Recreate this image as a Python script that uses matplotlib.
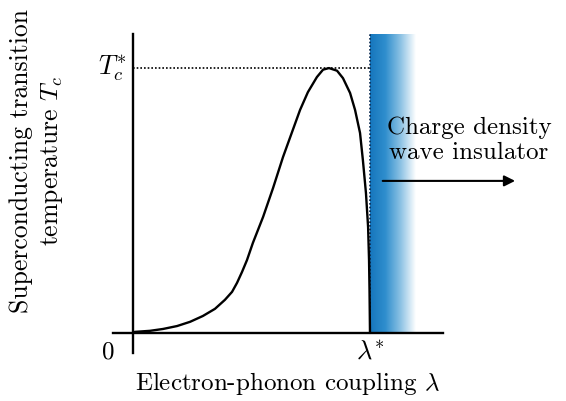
import numpy as np
import matplotlib
matplotlib.use('Agg')
import matplotlib.pyplot as plt
from matplotlib.colors import LinearSegmentedColormap

plt.rcParams['font.family'] = 'serif'
plt.rcParams['font.serif'] = ['cmr10', 'DejaVu Serif']
plt.rcParams['mathtext.fontset'] = 'cm'
plt.rcParams['axes.unicode_minus'] = False

# Tc(lambda) curve (units: lambda*, Tc*)
lam = [0.0, 0.008, 0.072, 0.127, 0.186, 0.241, 0.295, 0.346, 0.388, 0.418,
       0.439, 0.460, 0.481, 0.506, 0.549, 0.591, 0.633, 0.671, 0.705, 0.738,
       0.776, 0.802, 0.827, 0.861, 0.886, 0.916, 0.937, 0.958, 0.970, 0.983,
       0.992, 0.996, 0.998, 1.0]
tc = [0.0, 0.004, 0.008, 0.015, 0.026, 0.042, 0.064, 0.091, 0.125, 0.155,
      0.189, 0.230, 0.275, 0.340, 0.438, 0.547, 0.664, 0.758, 0.842, 0.909,
      0.966, 0.994, 1.0, 0.990, 0.962, 0.906, 0.842, 0.755, 0.653, 0.528,
      0.400, 0.275, 0.162, 0.0]
lam_star = 1.0
tc_star = 1.0

fig = plt.figure(figsize=(5.66, 4.01), dpi=100)
ax = fig.add_axes([0, 0, 1, 1])
ax.set_xlim(-0.561, 1.827)
ax.set_ylim(-0.257, 1.257)
ax.axis('off')

# CDW band (blue -> white gradient)
cmap = LinearSegmentedColormap.from_list('cdw', ['#1676bd', '#2f8ecd', '#8cc2e4', '#ffffff'])
grad = np.linspace(0, 1, 256).reshape(1, -1)
ax.imshow(grad, cmap=cmap, aspect='auto', extent=[lam_star, 1.19, 0, 1.128],
          interpolation='bilinear', zorder=1)

# axes lines
ax.plot([-0.084, 1.308], [0, 0], color='black', lw=1.7, zorder=3)
ax.plot([0, 0], [-0.075, 1.128], color='black', lw=1.7, zorder=3)

# dotted guides
ax.plot([0, lam_star], [tc_star, tc_star], color='black', lw=1.2, ls=(0, (1, 1.2)), zorder=2)
ax.plot([lam_star, lam_star], [0, 1.128], color='#0a2a50', lw=1.2, ls=(0, (1, 1.2)), zorder=2)

# Tc curve
ax.plot(lam, tc, color='black', lw=1.7, zorder=4, solid_joinstyle='round',
        solid_capstyle='round')

# tick-like labels
ax.text(-0.105, -0.075, '0', fontsize=18, ha='center', va='center')
ax.text(lam_star, -0.072, r'$\lambda^{*}$', fontsize=19, ha='center', va='center')
ax.text(-0.025, tc_star, r'$T_c^{*}$', fontsize=19, ha='right', va='center')

# axis titles
ax.text(0.65, -0.19, r'Electron-phonon coupling $\lambda$', fontsize=18,
        ha='center', va='center')
ax.text(-0.405, 0.65, 'Superconducting transition\n' + r'temperature $T_c$', fontsize=18.5,
        ha='center', va='center', rotation=90, linespacing=1.35)

# CDW annotation
ax.text(1.418, 0.728, 'Charge density\nwave insulator', fontsize=18,
        ha='center', va='center', linespacing=1.2)
ax.annotate('', xy=(1.624, 0.574), xytext=(1.042, 0.574),
            arrowprops=dict(arrowstyle='-|>', color='black', lw=1.5, mutation_scale=16),
            zorder=5)

plt.savefig('out.png', dpi=100)
